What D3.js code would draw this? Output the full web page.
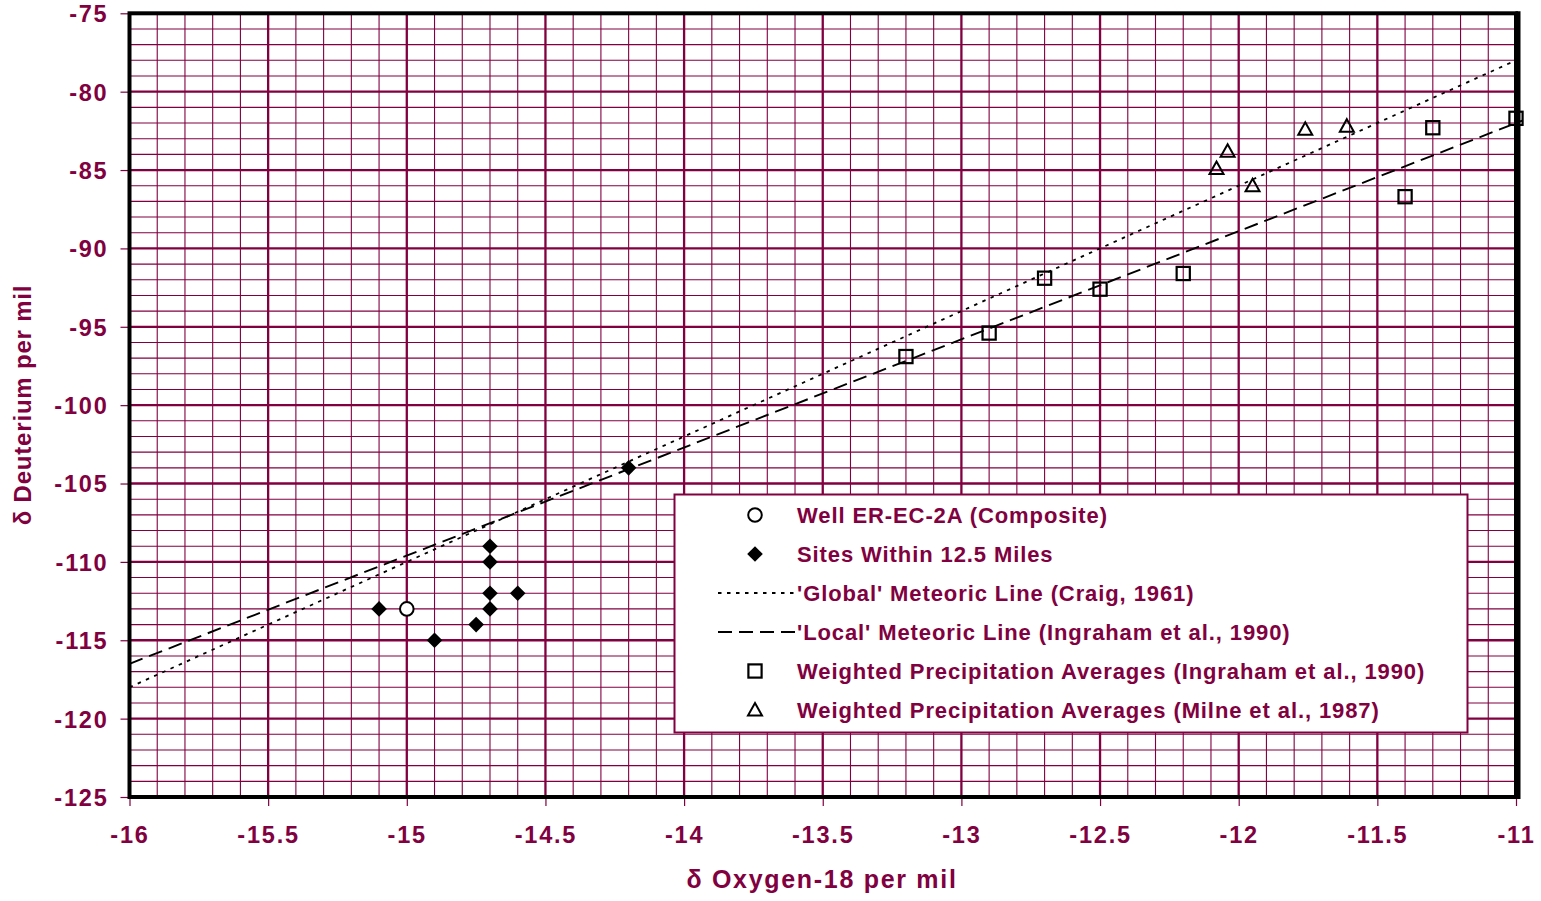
<!DOCTYPE html>
<html>
<head>
<meta charset="utf-8">
<script src="https://cdn.jsdelivr.net/npm/d3@7"></script>
<style>
  html, body { margin: 0; padding: 0; background: #ffffff; }
  svg text { font-family: "Liberation Sans", Arial, sans-serif; font-weight: bold; fill: #800040; }
</style>
</head>
<body>
<svg id="chart" width="1541" height="901"></svg>
<script>
// Well ER-EC-2A composite sample
const wellPoints = [[-15.0, -113]];
// Sites within 12.5 miles
const sitePoints = [
  [-15.1, -113], [-14.9, -115], [-14.75, -114], [-14.7, -109], [-14.7, -110],
  [-14.7, -112], [-14.7, -113], [-14.6, -112], [-14.2, -104]
];
// Weighted precipitation averages (Ingraham et al., 1990)
const ingrahamPoints = [
  [-13.2, -96.9], [-12.9, -95.4], [-12.7, -91.9], [-12.5, -92.6], [-12.2, -91.6],
  [-11.4, -86.7], [-11.3, -82.3], [-11.0, -81.7]
];
// Weighted precipitation averages (Milne et al., 1987)
const milnePoints = [
  [-12.08, -84.9], [-12.04, -83.8], [-11.95, -86.0], [-11.76, -82.4], [-11.61, -82.2]
];
// Meteoric lines: dD = slope * d18O + intercept
const globalLine = { slope: 8, intercept: 10 };
const localLine = { slope: 6.9, intercept: -6.1 };

const xTicks = [-16, -15.5, -15, -14.5, -14, -13.5, -13, -12.5, -12, -11.5, -11];
const yTicks = [-125, -120, -115, -110, -105, -100, -95, -90, -85, -80, -75];

const legendLabels = [
  "Well ER-EC-2A (Composite)",
  "Sites Within 12.5 Miles",
  "'Global' Meteoric Line (Craig, 1961)",
  "'Local' Meteoric Line (Ingraham et al., 1990)",
  "Weighted Precipitation Averages (Ingraham et al., 1990)",
  "Weighted Precipitation Averages (Milne et al., 1987)"
];

const MAROON = "#800040";
const svg = d3.select("#chart");
const plot = { left: 129.5, right: 1516, top: 13.3, bottom: 797 };

const x = d3.scaleLinear().domain([-16, -11]).range([plot.left, plot.right]);
const y = d3.scaleLinear().domain([-125, -75]).range([plot.bottom, plot.top]);

// Grid: minor lines every 0.1 / 1 unit, major every 0.5 / 5 units
const grid = svg.append("g");
const minorX = d3.range(-160, -109, 1).map(v => v / 10).filter(v => Math.abs(v * 2 - Math.round(v * 2)) > 1e-6);
const minorY = d3.range(-125, -74, 1).filter(v => v % 5 !== 0);
grid.selectAll(".mx").data(minorX).join("line")
  .attr("x1", d => x(d)).attr("x2", d => x(d))
  .attr("y1", plot.top).attr("y2", plot.bottom)
  .attr("stroke", MAROON).attr("stroke-width", 1.1);
grid.selectAll(".my").data(minorY).join("line")
  .attr("x1", plot.left).attr("x2", plot.right)
  .attr("y1", d => y(d)).attr("y2", d => y(d))
  .attr("stroke", MAROON).attr("stroke-width", 1.1);
grid.selectAll(".Mx").data(xTicks).join("line")
  .attr("x1", d => x(d)).attr("x2", d => x(d))
  .attr("y1", plot.top).attr("y2", plot.bottom)
  .attr("stroke", MAROON).attr("stroke-width", 2.3);
grid.selectAll(".My").data(yTicks).join("line")
  .attr("x1", plot.left).attr("x2", plot.right)
  .attr("y1", d => y(d)).attr("y2", d => y(d))
  .attr("stroke", MAROON).attr("stroke-width", 2.3);

// Axes (plain hyphen for the minus sign)
const fmt = d => String(d);
const xAxis = d3.axisBottom(x).tickValues(xTicks).tickSize(9).tickPadding(20).tickFormat(fmt);
const yAxis = d3.axisLeft(y).tickValues(yTicks).tickSize(9).tickPadding(12).tickFormat(fmt);

const gx = svg.append("g").attr("transform", `translate(0,${plot.bottom})`).call(xAxis);
const gy = svg.append("g").attr("transform", `translate(${plot.left},0)`).call(yAxis);
[gx, gy].forEach(g => {
  g.select(".domain").remove();
  g.selectAll(".tick line").attr("stroke", MAROON).attr("stroke-width", 1.2);
  g.selectAll(".tick text").attr("fill", MAROON)
    .style("font-size", "23.5px").style("letter-spacing", "1.8px");
});
gy.selectAll(".tick text").attr("dy", "0.36em");

// Plot frame
svg.append("rect")
  .attr("x", plot.left).attr("y", plot.top)
  .attr("width", plot.right - plot.left).attr("height", plot.bottom - plot.top)
  .attr("fill", "none").attr("stroke", "#000").attr("stroke-width", 4);
svg.append("line")
  .attr("x1", plot.right + 2).attr("x2", plot.right + 2)
  .attr("y1", plot.top - 2).attr("y2", plot.bottom + 2)
  .attr("stroke", "#000").attr("stroke-width", 5);

// Meteoric lines, clipped to the plot
svg.append("clipPath").attr("id", "plotClip").append("rect")
  .attr("x", plot.left).attr("y", plot.top)
  .attr("width", plot.right - plot.left + 6).attr("height", plot.bottom - plot.top);
const lines = svg.append("g").attr("clip-path", "url(#plotClip)");
const lineGen = d3.line().x(d => x(d[0])).y(d => y(d[1]));
const ends = [-16, -10.97];
lines.append("path")
  .attr("d", lineGen(ends.map(v => [v, globalLine.slope * v + globalLine.intercept])))
  .attr("fill", "none").attr("stroke", "#000").attr("stroke-width", 1.8)
  .attr("stroke-dasharray", "3.5,5.5");
lines.append("path")
  .attr("d", lineGen(ends.map(v => [v, localLine.slope * v + localLine.intercept])))
  .attr("fill", "none").attr("stroke", "#000").attr("stroke-width", 1.9)
  .attr("stroke-dasharray", "14,7");

// Marker shapes
const marks = svg.append("g");
function circleMark(g, cx, cy) {
  g.append("circle").attr("cx", cx).attr("cy", cy).attr("r", 6.8)
    .attr("fill", "#fff").attr("stroke", "#000").attr("stroke-width", 2);
}
function diamondMark(g, cx, cy) {
  g.append("path").attr("d", `M${cx},${cy - 7.8}L${cx + 7.8},${cy}L${cx},${cy + 7.8}L${cx - 7.8},${cy}Z`)
    .attr("fill", "#000");
}
function squareMark(g, cx, cy) {
  g.append("rect").attr("x", cx - 6.6).attr("y", cy - 6.6).attr("width", 13.2).attr("height", 13.2)
    .attr("fill", "none").attr("stroke", "#000").attr("stroke-width", 2.2);
}
function triangleMark(g, cx, cy) {
  g.append("path").attr("d", `M${cx},${cy - 7}L${cx + 7},${cy + 5.5}L${cx - 7},${cy + 5.5}Z`)
    .attr("fill", "none").attr("stroke", "#000").attr("stroke-width", 2).attr("stroke-linejoin", "miter");
}

sitePoints.forEach(d => diamondMark(marks, x(d[0]), y(d[1])));
wellPoints.forEach(d => circleMark(marks, x(d[0]), y(d[1])));
ingrahamPoints.forEach(d => squareMark(marks, x(d[0]), y(d[1])));
milnePoints.forEach(d => triangleMark(marks, x(d[0]), y(d[1])));

// Legend
const legend = svg.append("g");
legend.append("rect").attr("x", 674.5).attr("y", 494.5).attr("width", 793).attr("height", 238)
  .attr("fill", "#fff").attr("stroke", MAROON).attr("stroke-width", 2);
const rowY = i => 515 + i * 39;
legendLabels.forEach((label, i) => {
  legend.append("text").attr("x", 797).attr("y", rowY(i)).attr("dy", "0.36em")
    .style("font-size", "22px").style("letter-spacing", "0.9px").text(label);
});
circleMark(legend, 755, rowY(0));
diamondMark(legend, 755, rowY(1));
legend.append("line").attr("x1", 718).attr("x2", 795).attr("y1", rowY(2)).attr("y2", rowY(2))
  .attr("stroke", "#000").attr("stroke-width", 1.8).attr("stroke-dasharray", "3.5,5.5");
legend.append("line").attr("x1", 718).attr("x2", 795).attr("y1", rowY(3)).attr("y2", rowY(3))
  .attr("stroke", "#000").attr("stroke-width", 1.9).attr("stroke-dasharray", "14,7");
squareMark(legend, 755, rowY(4));
triangleMark(legend, 755, rowY(5));

// Axis titles
svg.append("text").attr("x", 822).attr("y", 888).attr("text-anchor", "middle")
  .style("font-size", "25px").style("letter-spacing", "1.7px").text("δ Oxygen-18 per mil");
svg.append("text").attr("transform", "translate(31,405) rotate(-90)").attr("text-anchor", "middle")
  .style("font-size", "24px").style("letter-spacing", "0.8px").text("δ Deuterium per mil");
</script>
</body>
</html>
